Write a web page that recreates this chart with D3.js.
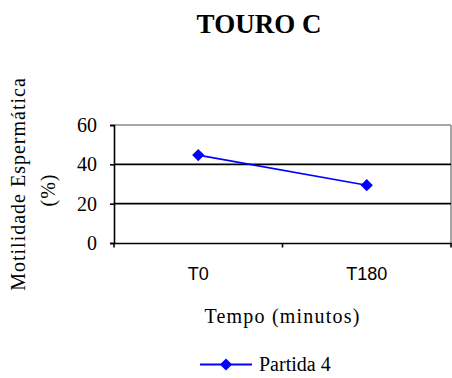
<!DOCTYPE html>
<html>
<head>
<meta charset="utf-8">
<script src="https://cdn.jsdelivr.net/npm/d3@7"></script>
<style>
  html, body { margin: 0; padding: 0; background: #fff; }
  svg { display: block; }
</style>
</head>
<body>
<div id="chart"></div>
<script>
'use strict';

// ── Data ─────────────────────────────────────────────
const categories = ['T0', 'T180'];
const seriesName = 'Partida 4';
const motility   = [44.7, 29.4];
const yTicks     = [0, 20, 40, 60];

const totalW = 452, totalH = 378;
const margin = { top: 125, right: 1, bottom: 135, left: 114 };
const W = totalW - margin.left - margin.right;
const H = totalH - margin.top - margin.bottom;

const serif = "'Liberation Serif', 'Times New Roman', Times, serif";
const sans  = "'Liberation Sans', Arial, sans-serif";

const svg = d3.select('#chart').append('svg')
    .attr('width', totalW)
    .attr('height', totalH);

const chart = svg.append('g')
    .attr('transform', `translate(${margin.left},${margin.top})`);

// ── Scales ───────────────────────────────────────────
const x = d3.scaleBand().domain(categories).range([0, W]);
const y = d3.scaleLinear().domain([0, 60]).range([H, 0]);

// ── Plot frame + gridlines ───────────────────────────
chart.append('line')
    .attr('x1', 0).attr('x2', W)
    .attr('y1', y(60)).attr('y2', y(60))
    .attr('stroke', '#888').attr('stroke-width', 1.5);
chart.append('line')
    .attr('x1', W).attr('x2', W)
    .attr('y1', y(60)).attr('y2', H)
    .attr('stroke', '#888').attr('stroke-width', 1.5);

chart.selectAll('line.grid')
    .data(yTicks.filter(v => v > 0 && v < 60))
    .join('line')
    .attr('class', 'grid')
    .attr('x1', 0).attr('x2', W)
    .attr('y1', d => y(d)).attr('y2', d => y(d))
    .attr('stroke', '#000').attr('stroke-width', 1.6);

// ── Axes ─────────────────────────────────────────────
const yAxis = chart.append('g')
    .call(d3.axisLeft(y).tickValues(yTicks).tickSize(4).tickPadding(13));
yAxis.attr('font-family', serif).attr('font-size', 20);
yAxis.select('.domain').attr('stroke-width', 1.6);
yAxis.selectAll('.tick line').attr('stroke-width', 1.6);
yAxis.selectAll('text').attr('fill', '#000');

const xAxis = chart.append('g')
    .attr('transform', `translate(0,${H})`)
    .call(d3.axisBottom(x).tickSize(0).tickPadding(24));
xAxis.attr('font-family', sans).attr('font-size', 18);
xAxis.select('.domain').attr('stroke-width', 1.6);
xAxis.selectAll('text').attr('fill', '#000');

// category boundary ticks
const bounds = [0, ...categories.map(c => x(c) + x.bandwidth())];
chart.selectAll('line.xtick')
    .data(bounds)
    .join('line')
    .attr('class', 'xtick')
    .attr('x1', d => d).attr('x2', d => d)
    .attr('y1', H).attr('y2', H + 4.5)
    .attr('stroke', '#000').attr('stroke-width', 1.6);

// ── Series ───────────────────────────────────────────
const pts = categories.map((c, i) => ({ c, v: motility[i] }));
const cx = d => x(d.c) + x.bandwidth() / 2;

chart.append('path')
    .datum(pts)
    .attr('fill', 'none')
    .attr('stroke', '#0000ff')
    .attr('stroke-width', 1.6)
    .attr('d', d3.line().x(cx).y(d => y(d.v)));

const diamond = d3.symbol().type(d3.symbolDiamond2).size(95);
chart.selectAll('path.pt')
    .data(pts)
    .join('path')
    .attr('class', 'pt')
    .attr('transform', d => `translate(${cx(d)},${y(d.v)})`)
    .attr('d', diamond)
    .attr('fill', '#0000ff');

// ── Titles ───────────────────────────────────────────
svg.append('text')
    .attr('x', 259).attr('y', 33)
    .attr('text-anchor', 'middle')
    .style('font-family', serif)
    .attr('font-weight', 'bold')
    .attr('font-size', 27)
    .text('TOURO C');

svg.append('text')
    .attr('x', margin.left + W / 2).attr('y', 323)
    .attr('text-anchor', 'middle')
    .style('font-family', serif)
    .attr('font-size', 20)
    .attr('letter-spacing', 1.2)
    .text('Tempo (minutos)');

const yTitle = svg.append('g')
    .attr('transform', `translate(0,${margin.top + H / 2}) rotate(-90)`)
    .style('font-family', serif)
    .attr('font-size', 20)
    .attr('letter-spacing', 1)
    .attr('text-anchor', 'middle');
yTitle.append('text')
    .attr('x', 0).attr('y', 25)
    .text('Motilidade Espermática');
yTitle.append('text')
    .attr('x', -6).attr('y', 55)
    .text('(%)');

// ── Legend ───────────────────────────────────────────
const legend = svg.append('g').attr('transform', 'translate(200,364.5)');
legend.append('line')
    .attr('x1', 0).attr('x2', 52)
    .attr('y1', 0).attr('y2', 0)
    .attr('stroke', '#0000ff').attr('stroke-width', 2);
legend.append('path')
    .attr('transform', 'translate(26,0)')
    .attr('d', diamond)
    .attr('fill', '#0000ff');
legend.append('text')
    .attr('x', 59).attr('y', 6.5)
    .style('font-family', serif)
    .attr('font-size', 20)
    .text(seriesName);
</script>
</body>
</html>
